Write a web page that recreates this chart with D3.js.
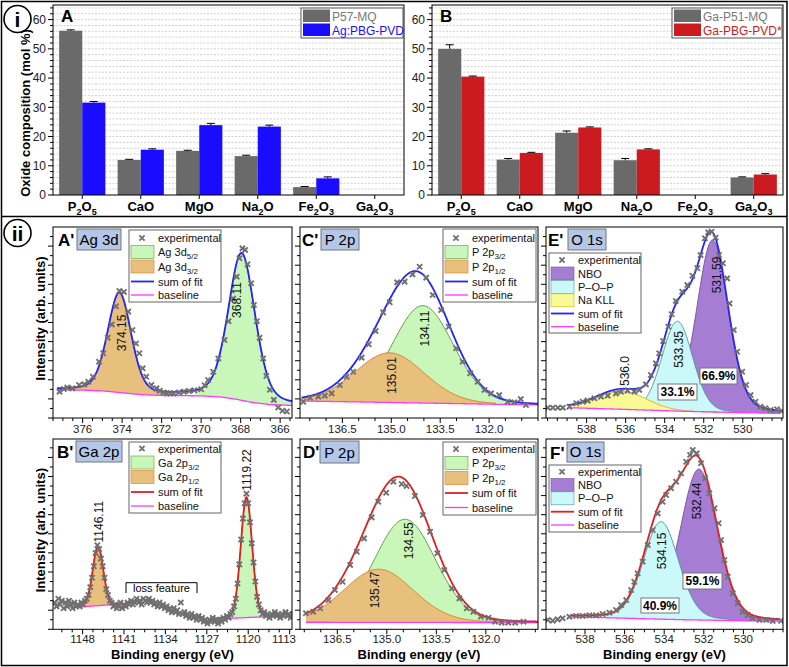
<!DOCTYPE html>
<html><head><meta charset="utf-8">
<script src="https://cdn.jsdelivr.net/npm/d3@7"></script>
<style>body{margin:0;background:#fff}svg{display:block;font-family:"Liberation Sans",Arial,sans-serif}</style>
</head><body><svg id="c" width="789" height="667"></svg>
<script>
// ================= DATA =================
const oxides = ["P2O5","CaO","MgO","Na2O","Fe2O3","Ga2O3"];
const barTicks = [0,10,20,30,40,50,60];
const p57mq    = [56.2, 12.0, 15.1, 13.3, 2.7, null];
const p57mqErr = [0.3, 0.2, 0.2, 0.3, 0.2, null];
const agPvd    = [31.6, 15.5, 23.9, 23.4, 5.7, null];
const agPvdErr = [0.4, 0.3, 0.6, 0.5, 0.5, null];
const gaP51    = [50.0, 12.1, 21.3, 11.9, null, 6.0];
const gaP51Err = [1.4, 0.4, 0.6, 0.6, null, 0.2];
const gaPvd    = [40.5, 14.4, 23.1, 15.6, null, 7.0];
const gaPvdErr = [0.2, 0.2, 0.2, 0.2, null, 0.3];

// XPS tick labels
const agTicks = [376,374,372,370,368,366];
const gaTicks = [1148,1141,1134,1127,1120,1113];
const pTicks  = [136.5,135.0,133.5,132.0];
const oTicks  = [538,536,534,532,530];

// A' Ag 3d
const agExp = [[377.17,13.8],[376.95,15.2],[376.78,15.9],[376.52,15.5],[376.18,17.3],[375.92,17.6],[375.71,19.0],[375.48,21.6],[375.17,29.5],[374.96,33.9],[374.73,42.0],[374.52,49.0],[374.31,58.5],[374.14,66.5],[373.91,66.0],[373.69,55.7],[373.48,46.1],[373.3,39.0],[373.13,33.9],[372.96,26.0],[372.78,21.6],[372.52,17.3],[372.26,15.5],[372.09,14.3],[371.9,13.4],[371.74,12.9],[371.56,13.0],[371.39,12.9],[371.13,13.3],[370.87,13.8],[370.61,14.1],[370.35,14.5],[370.0,15.0],[369.82,17.2],[369.65,19.9],[369.39,24.2],[369.13,31.2],[368.82,40.8],[368.61,50.7],[368.38,62.5],[368.2,74.0],[368.06,83.6],[367.91,88.8],[367.77,88.0],[367.65,80.5],[367.47,70.5],[367.33,59.2],[367.18,50.7],[367.04,42.0],[366.86,31.2],[366.7,22.0],[366.52,14.8],[366.32,9.5],[366.1,5.5],[365.88,3.8],[365.66,3.4]];
const agBaseline = [[377.3,14.8],[376,14.6],[375,14.2],[374,13.2],[373,12.2],[372,11.8],[370,11.6],[369,11.0],[368.2,9.8],[367.5,8.3],[366.5,7.0],[365.4,6.6]];
const agPeaks = [
  {name:"Ag 3d5/2", center:367.95, height:77, fwhm:1.6, eta:0.3, from:370.3, to:365.4},
  {name:"Ag 3d3/2", center:374.14, height:52, fwhm:1.4, eta:0.25, from:377.3, to:371.9}];
const agPeakLabels = ["368.11","374.15"];

// B' Ga 2p
const gaStart = 1152.7, gaStep = 0.3;
const gaExpI = [14,12,16,13,15,11,14,12,15,13, 11,14,12,13,12,14,13,15,16,18, 22,27,33,40,44,42,37,33,27,21,
  18,15,14,12,13,11,12,14,11,13, 12,14,13,15,13,14,16,14,15,13, 16,15,14,16,14,15,13,14,12,14,
  12,13,11,12,10,11,9,11,9,10, 8,14,8,9,7,8,6,8,6,7, 5,7,5,6,4,5,3,5,4,6, 4,5,3,5,4,6,5,7,6,8,
  9,12,16,24,34,47,58,66,71,66, 56,45,35,25,17,13,10,8,9,7, 8,6,8,7,9,7,8,6,8,7, 9,7,8,6,8,7,9,7,8];
const gaBaseline1 = [[1149.3,11.5],[1141.6,13.2]];
const gaBaseline2 = [[1125.6,5.4],[1114.0,7.0]];
const gaPeaks = [
  {name:"Ga 2p3/2", center:1120.3, height:63, fwhm:2.25, eta:0.1, from:1125.6, to:1114.0},
  {name:"Ga 2p1/2", center:1145.4, height:31, fwhm:2.1, eta:0.1, from:1149.3, to:1141.6}];
const gaPeakLabels = ["1119.22","1146.11"];

// C' P 2p (Ag glass)
const pAgExp = [[137.70,8.5],[137.49,10.6],[137.24,11.2],[137.04,11.7],[136.83,12.9],[136.58,17.3],[136.37,21.6],[136.17,24.2],[135.91,31.6],[135.69,38.6],[135.48,45.5],[135.25,55.3],[135.05,60.6],[134.82,71.0],[134.59,71.4],[134.35,75.2],[134.13,79.2],[133.93,73.5],[133.73,64.4],[133.47,56.5],[133.24,47.8],[133.01,36.5],[132.81,29.5],[132.58,23.4],[132.35,19.0],[132.14,14.7],[131.94,12.9],[131.69,12.0],[131.43,8.5],[131.23,8.2],[131.03,9.9],[130.87,6.8]];
const pAgBaseline = [[137.75,8.9],[130.45,6.8]];
const pAgPeaks = [
  {name:"P 2p3/2", center:134.03, height:51, fwhm:2.2, eta:0.1, from:137.75, to:130.45},
  {name:"P 2p1/2", center:135.05, height:26, fwhm:2.5, eta:0.1, from:137.75, to:131.8}];
const pAgPeakLabels = ["134.11","135.01"];

// D' P 2p (Ga glass)
const pGaExp = [[137.45,8.4],[137.23,9.2],[137.02,11.0],[136.77,15.3],[136.57,20.6],[136.34,24.9],[136.11,33.7],[135.91,40.6],[135.69,47.6],[135.46,58.6],[135.26,66.8],[135.02,71.5],[134.8,77.3],[134.55,76.1],[134.4,75.0],[134.15,69.8],[133.91,59.8],[133.69,51.1],[133.47,39.8],[133.26,31.0],[133.03,21.5],[132.8,16.2],[132.58,11.0],[132.38,9.2],[132.15,6.6],[131.92,6.1],[131.72,4.0],[131.52,3.5],[131.32,3.5],[131.11,3.5],[130.86,4.0]];
const pGaBaseline = [[137.45,3.7],[130.42,3.5]];
const pGaPeaks = [
  {name:"P 2p3/2", center:134.45, height:54, fwhm:2.2, eta:0.1, from:137.45, to:130.42},
  {name:"P 2p1/2", center:135.25, height:27.8, fwhm:2.5, eta:0.1, from:137.45, to:131.5}];
const pGaPeakLabels = ["134.55","135.47"];

// E' O 1s (Ag glass)
const oAgExp = [[539.98,5.4],[539.73,5.4],[539.47,5.4],[539.22,5.4],[538.88,5.9],[538.53,7.7],[538.2,8.5],[537.94,9.1],[537.6,10.3],[537.26,11.2],[536.92,11.7],[536.5,12.9],[536.24,13.8],[535.9,14.3],[535.56,13.8],[535.3,14.7],[534.96,17.6],[534.71,22.5],[534.45,28.6],[534.28,33.9],[534.08,40.3],[533.81,47.8],[533.64,54.3],[533.43,61.3],[533.1,66.1],[532.84,69.6],[532.58,74.5],[532.33,78.4],[532.16,85.3],[531.94,94.1],[531.77,97.2],[531.6,97.5],[531.39,94.4],[531.22,85.3],[531.02,81.0],[530.8,73.1],[530.68,60.0],[530.46,46.1],[530.29,34.7],[530.03,24.2],[529.83,17.3],[529.6,12.0],[529.35,8.5],[529.1,5.9],[528.84,5.1],[528.58,4.2],[528.25,4.6],[528.0,3.7]];
const oAgBaseline = [[538.95,5.4],[536,4.5],[533,3.5],[530,2.8],[528.1,2.4]];
const oAgPeaks = [
  {name:"NBO", center:531.55, height:90, fwhm:1.9, eta:0.2, from:533.2, to:528.1},
  {name:"P–O–P", center:533.35, height:47, fwhm:1.85, eta:0.1, from:535.3, to:530.5},
  {name:"Na KLL", center:536.2, height:9.5, fwhm:3.0, eta:0.0, from:538.95, to:531.2}];
const oAgPeakLabels = ["531.59","533.35","536.0"];
const oAgPercent = ["66.9%","33.1%"];

// F' O 1s (Ga glass)
const oGaExp = [[539.88,4.9],[539.63,4.5],[539.38,5.2],[539.13,5.8],[538.79,6.6],[538.45,7.0],[538.12,7.0],[537.78,7.3],[537.44,7.3],[537.11,8.0],[536.77,8.7],[536.43,10.1],[536.18,12.7],[535.92,15.3],[535.67,20.6],[535.51,24.9],[535.34,29.3],[535.09,35.4],[534.83,44.1],[534.58,52.0],[534.33,60.7],[534.08,66.8],[533.9,70.3],[533.65,73.8],[533.4,77.3],[533.15,81.7],[532.89,87.7],[532.69,91.3],[532.56,93.9],[532.36,92.1],[532.14,86.9],[531.93,79.1],[531.72,71.2],[531.46,63.4],[531.25,55.5],[531.13,46.8],[530.96,36.3],[530.79,27.5],[530.54,18.8],[530.29,13.6],[530.04,9.2],[529.78,7.5],[529.53,5.8],[529.19,4.9],[528.85,4.9],[528.52,4.3],[528.1,4.5]];
const oGaBaseline = [[538.7,6.6],[536,5.8],[533,5.0],[530,4.5],[528.2,4.3]];
const oGaPeaks = [
  {name:"NBO", center:532.25, height:79, fwhm:2.2, eta:0.15, from:534.2, to:528.2},
  {name:"P–O–P", center:534.16, height:51, fwhm:2.1, eta:0.15, from:538.7, to:530.8}];
const oGaPeakLabels = ["532.44","534.15"];
const oGaPercent = ["59.1%","40.9%"];

// ================= STYLE =================
const C = {gray:"#6a6a6a", blueBar:"#1a0dff", redBar:"#cc1b20",
  green:"#c9f7ba", greenLine:"#5e9a46", orange:"#e8c07e", orangeLine:"#e07a22",
  purple:"#a57ed3", purpleLine:"#7a52a5", cyan:"#cbf9f9", cyanLine:"#4d9696",
  yellow:"#f9f995", yellowLine:"#d2b400", blue:"#2323ff", red:"#e01f1f", base:"#ff38ff", exp:"#707070",
  titleBg:"#b4c7e8"};
const svg = d3.select("#c");

// ================= HELPERS =================
function chemText(sel, str){
  const parts = str.match(/[A-Za-z]+|\d+/g);
  let sub=false;
  parts.forEach(p=>{
    const isNum=/^\d+$/.test(p);
    const t=sel.append("tspan").text(p);
    if(isNum){t.attr("font-size","9px").attr("dy",sub?0:4);sub=true;}
    else{ if(sub){t.attr("dy",-4);} sub=false;}
  });
}
function xMark(g,x,y,r,col,w){
  g.append("path").attr("d",`M${x-r},${y-r}L${x+r},${y+r}M${x-r},${y+r}L${x+r},${y-r}`)
   .attr("stroke",col).attr("stroke-width",w).attr("fill","none");
}

// ================= FRAME =================
svg.append("rect").attr("x",1.5).attr("y",1.5).attr("width",785.5).attr("height",664).attr("fill","none").attr("stroke","#000").attr("stroke-width",1.5);
svg.append("line").attr("x1",1.5).attr("x2",787).attr("y1",216.5).attr("y2",216.5).attr("stroke","#000").attr("stroke-width",1.5);
[[17.5,19,"i"],[17.5,233,"ii"]].forEach(([cx,cy,t])=>{
  svg.append("circle").attr("cx",cx).attr("cy",cy).attr("r",13.5).attr("fill","#fff").attr("stroke","#000").attr("stroke-width",1.6);
  svg.append("text").attr("x",cx).attr("y",cy+7.5).attr("text-anchor","middle").attr("font-size","21px").attr("font-weight","bold").text(t);
});

// ================= BAR PANELS =================
function barPanel(x0,x1,s1,e1,s2,e2,col2,names,legBox,letter){
  const g=svg.append("g");
  const y0=195,y1=5;
  const x=d3.scaleBand().domain(oxides).range([x0,x1]);
  const y=d3.scaleLinear().domain([0,65]).range([y0,y1]);
  d3.range(2,65,2).forEach(v=>{
    g.append("line").attr("x1",x0).attr("x2",x1).attr("y1",y(v)).attr("y2",y(v))
     .attr("stroke","#c4c4c4").attr("stroke-width",0.8).attr("stroke-dasharray","2,1.5");
  });
  const bw=x.bandwidth()*0.395;
  oxides.forEach((o,i)=>{
    const cx=x(o)+x.bandwidth()/2;
    [[s1,e1,C.gray,cx-bw],[s2,e2,col2,cx]].forEach(([s,e,c,bx])=>{
      if(s[i]==null) return;
      g.append("rect").attr("x",bx).attr("y",y(s[i])).attr("width",bw).attr("height",y(0)-y(s[i])).attr("fill",c);
      const ex=bx+bw/2;
      g.append("line").attr("x1",ex).attr("x2",ex).attr("y1",y(s[i])).attr("y2",y(s[i]+e[i])).attr("stroke","#000").attr("stroke-width",1);
      g.append("line").attr("x1",ex-4).attr("x2",ex+4).attr("y1",y(s[i]+e[i])).attr("y2",y(s[i]+e[i])).attr("stroke","#000").attr("stroke-width",1);
    });
    g.append("line").attr("x1",cx).attr("x2",cx).attr("y1",y0).attr("y2",y0+4).attr("stroke","#000");
    const t=g.append("text").attr("x",cx).attr("y",211).attr("text-anchor","middle").attr("font-size","13px").attr("font-weight","bold");
    chemText(t,o);
  });
  g.append("rect").attr("x",x0).attr("y",y1).attr("width",x1-x0).attr("height",y0-y1).attr("fill","none").attr("stroke","#000").attr("stroke-width",1);
  d3.range(0,65,2).forEach(v=>{
    const major=barTicks.includes(v);
    g.append("line").attr("x1",x0).attr("x2",x0-(major?5:3)).attr("y1",y(v)).attr("y2",y(v)).attr("stroke","#000");
  });
  barTicks.forEach(v=>g.append("text").attr("x",x0-7).attr("y",y(v)).attr("dy","0.36em").attr("text-anchor","end").attr("font-size","12px").attr("fill","#222").text(v));
  g.append("text").attr("x",x0+8).attr("y",22).attr("font-size","17px").attr("font-weight","bold").text(letter);
  const [lx0,ly0,lx1,ly1]=legBox;
  g.append("rect").attr("x",lx0).attr("y",ly0).attr("width",lx1-lx0).attr("height",ly1-ly0).attr("fill","#fff").attr("stroke","#555").attr("stroke-width",1);
  [[C.gray,"#777",names[0],ly0+1.5],[col2,col2,names[1],ly0+15.5]].forEach(([c,tc,n,ry])=>{
    g.append("rect").attr("x",lx0+2).attr("y",ry).attr("width",27).attr("height",12.5).attr("fill",c);
    g.append("text").attr("x",lx0+31).attr("y",ry+11).attr("font-size","12px").attr("fill",tc).text(n);
  });
}
barPanel(53,404,p57mq,p57mqErr,agPvd,agPvdErr,C.blueBar,["P57-MQ","Ag:PBG-PVD"],[301,8,403,38],"A");
barPanel(432,783,gaP51,gaP51Err,gaPvd,gaPvdErr,C.redBar,["Ga-P51-MQ","Ga-PBG-PVD*"],[672,8,782,38],"B");
svg.append("text").attr("transform","translate(30,113) rotate(-90)").attr("text-anchor","middle").attr("font-size","13px").attr("font-weight","bold").text("Oxide composition (mol %)");

// ================= XPS PANELS =================
const pv=(E,p)=>{const t=(E-p.center)/p.fwhm;const t2=4*t*t;return p.height*((1-p.eta)*Math.exp(-Math.LN2*t2)+p.eta/(1+t2));};
let clipId=0;
function xps(P){
  const [fx0,fy0,fx1,fy1]=P.frame;
  const g=svg.append("g");
  const x=d3.scaleLinear().domain(P.xd).range([fx0,fx1]);
  const y=d3.scaleLinear().domain([0,100]).range([fy1,fy1-191]);
  const id="clip"+(clipId++);
  g.append("clipPath").attr("id",id).append("rect").attr("x",fx0).attr("y",fy0).attr("width",fx1-fx0).attr("height",fy1-fy0);
  const pg=g.append("g").attr("clip-path",`url(#${id})`);
  const regions=P.regions.map(r=>{
    const bl=d3.scaleLinear().domain(r.baseline.map(d=>d[0])).range(r.baseline.map(d=>d[1])).clamp(true);
    return {bl,e0:r.baseline[0][0],e1:r.baseline[r.baseline.length-1][0],peaks:r.peaks};
  });
  P.order.forEach(pi=>{
    const pk=P.peaks[pi];
    const reg=regions.find(r=>r.peaks.includes(pi));
    const es=d3.range(0,301).map(k=>pk.from+(pk.to-pk.from)*k/300);
    const area=d3.area().x(e=>x(e)).y0(e=>y(reg.bl(e))).y1(e=>y(reg.bl(e)+pv(e,pk)));
    pg.append("path").attr("d",area(es)).attr("fill",C[P.fills[pi]]);
    const line=d3.line().x(e=>x(e)).y(e=>y(reg.bl(e)+pv(e,pk)));
    pg.append("path").attr("d",line(es)).attr("fill","none").attr("stroke",C[P.fills[pi]+"Line"]).attr("stroke-width",1);
  });
  regions.forEach(reg=>{
    const es=d3.range(0,401).map(k=>reg.e0+(reg.e1-reg.e0)*k/400);
    pg.append("path").attr("d",d3.line().x(e=>x(e)).y(e=>y(reg.bl(e)))(es)).attr("fill","none").attr("stroke",C.base).attr("stroke-width",1.3);
  });
  regions.forEach(reg=>{
    const es=d3.range(0,401).map(k=>reg.e0+(reg.e1-reg.e0)*k/400);
    const sum=e=>reg.bl(e)+d3.sum(reg.peaks,pi=>pv(e,P.peaks[pi]));
    pg.append("path").attr("d",d3.line().x(e=>x(e)).y(e=>y(sum(e)))(es)).attr("fill","none").attr("stroke",C[P.sum]).attr("stroke-width",1.8);
  });
  P.exp.forEach(d=>xMark(pg,x(d[0]),y(d[1]),2.6,C.exp,1.9));
  g.append("rect").attr("x",fx0).attr("y",fy0).attr("width",fx1-fx0).attr("height",fy1-fy0).attr("fill","none").attr("stroke","#000").attr("stroke-width",1);
  const [dmax,dmin]=P.xd;
  for(let k=-40;k<200;k++){
    const v=P.ticks[0]-k*P.minor;
    if(v>dmax||v<dmin) continue;
    const major=P.ticks.some(t=>Math.abs(t-v)<1e-6);
    g.append("line").attr("x1",x(v)).attr("x2",x(v)).attr("y1",fy1).attr("y2",fy1+(major?5:3)).attr("stroke","#000");
  }
  P.ticks.forEach(v=>g.append("text").attr("x",Math.min(x(v),fx1-8)).attr("y",fy1+P.tickDy).attr("text-anchor","middle").attr("font-size","11.5px").attr("fill","#222").text(P.fmt(v)));
  for(let v=0;v<100;v+=5){
    g.append("line").attr("x1",fx0).attr("x2",fx0-(v%10===0?5:3)).attr("y1",y(v)).attr("y2",y(v)).attr("stroke","#000");
  }
  if(P.ylabel) g.append("text").attr("transform",`translate(44.5,${(fy0+fy1)/2-4}) rotate(-90)`).attr("text-anchor","middle").attr("font-size","13px").attr("font-weight","bold").text("Intensity (arb. units)");
  if(P.xlabel) g.append("text").attr("x",(fx0+fx1)/2).attr("y",fy1+30).attr("text-anchor","middle").attr("font-size","13px").attr("font-weight","bold").text("Binding energy (eV)");
  P.labels.forEach((t,i)=>{
    const [lx,ly]=P.labelPos[i];
    g.append("text").attr("transform",`translate(${lx},${ly}) rotate(-90)`).attr("text-anchor","middle").attr("dy","0.35em").attr("font-size","12px").attr("fill","#111").text(t);
  });
  (P.percent||[]).forEach((t,i)=>{
    const [bx0,by0,bx1,by1]=P.percentBox[i];
    g.append("rect").attr("x",bx0).attr("y",by0).attr("width",bx1-bx0).attr("height",by1-by0).attr("fill","#fff").attr("stroke","#777");
    g.append("text").attr("x",(bx0+bx1)/2).attr("y",(by0+by1)/2).attr("dy","0.36em").attr("text-anchor","middle").attr("font-size","12px").attr("font-weight","bold").text(t);
  });
  const [tx0,ty0,tx1,ty1]=P.titleBox;
  g.append("text").attr("x",P.letterX).attr("y",ty0+17).attr("font-size","17px").attr("font-weight","bold").text(P.letter);
  g.append("rect").attr("x",tx0).attr("y",ty0).attr("width",tx1-tx0).attr("height",ty1-ty0).attr("fill",C.titleBg).attr("stroke","#777");
  g.append("text").attr("x",(tx0+tx1)/2).attr("y",ty1-5).attr("text-anchor","middle").attr("font-size","15px").text(P.title);
  const L=P.legend;
  g.append("rect").attr("x",L.box[0]).attr("y",L.box[1]).attr("width",L.box[2]-L.box[0]).attr("height",L.box[3]-L.box[1]).attr("fill","#fff").attr("stroke","#666");
  L.items.forEach((it,i)=>{
    const ry=L.rows[i];
    if(it.k==="exp") xMark(g,L.sx+11,ry,2.6,C.exp,1.8);
    else if(it.k==="rect") g.append("rect").attr("x",L.sx).attr("y",ry-6.5).attr("width",23).attr("height",13).attr("fill",C[it.c]).attr("stroke",C[it.c+"Line"]).attr("stroke-width",0.6);
    else g.append("line").attr("x1",L.sx).attr("x2",L.sx+23).attr("y1",ry).attr("y2",ry).attr("stroke",C[it.c]).attr("stroke-width",it.c==="base"?1.3:1.8);
    const t=g.append("text").attr("x",L.tx).attr("y",ry+4).attr("font-size","11px").attr("fill","#111").text(it.t);
    if(it.s){ t.append("tspan").attr("font-size","8px").attr("dy",3).text(it.s); }
  });
}
const fInt=d3.format("d"), f1=d3.format(".1f");
const legRowsTop=[238,252,266.5,281.5,295];
xps({letter:"A'",title:"Ag 3d",frame:[53,227,292,418],tickDy:15,xd:[377.5,365.4],ticks:agTicks,minor:0.5,fmt:fInt,
  exp:agExp,regions:[{baseline:agBaseline,peaks:[0,1]}],peaks:agPeaks,fills:["green","orange"],order:[0,1],sum:"blue",
  labels:agPeakLabels,labelPos:[[237,300],[121.5,333]],ylabel:true,xlabel:false,titleBox:[77,229,121,250],letterX:58,
  legend:{box:[129,230,221,302],rows:legRowsTop,sx:131,tx:158,items:[{k:"exp",t:"experimental"},{k:"rect",c:"green",t:"Ag 3d",s:"5/2"},{k:"rect",c:"orange",t:"Ag 3d",s:"3/2"},{k:"line",c:"blue",t:"sum of fit"},{k:"line",c:"base",t:"baseline"}]}});
xps({letter:"C'",title:"P 2p",frame:[300,227,538,418],tickDy:15,xd:[137.8,130.5],ticks:pTicks,minor:0.5,fmt:f1,
  exp:pAgExp,regions:[{baseline:pAgBaseline,peaks:[0,1]}],peaks:pAgPeaks,fills:["green","orange"],order:[0,1],sum:"blue",
  labels:pAgPeakLabels,labelPos:[[425,328.5],[391.5,375.5]],ylabel:false,xlabel:false,titleBox:[321,229,359,250],letterX:302,
  legend:{box:[443,229,536,302],rows:legRowsTop,sx:445,tx:472,items:[{k:"exp",t:"experimental"},{k:"rect",c:"green",t:"P 2p",s:"3/2"},{k:"rect",c:"orange",t:"P 2p",s:"1/2"},{k:"line",c:"blue",t:"sum of fit"},{k:"line",c:"base",t:"baseline"}]}});
xps({letter:"E'",title:"O 1s",frame:[546,227,783,418],tickDy:15,xd:[540.08,527.94],ticks:oTicks,minor:0.5,fmt:fInt,
  exp:oAgExp,regions:[{baseline:oAgBaseline,peaks:[0,1,2]}],peaks:oAgPeaks,fills:["purple","cyan","yellow"],order:[0,1,2],sum:"blue",
  labels:oAgPeakLabels,labelPos:[[717,275],[679,349.5],[625,371]],percent:oAgPercent,percentBox:[[700,368,737,384],[658,384,697,400]],
  ylabel:false,xlabel:false,titleBox:[568,229,606,250],letterX:548,
  legend:{box:[549,253,641,333],rows:[260,273.5,287,300.3,313.5,326.7],sx:551,tx:578,items:[{k:"exp",t:"experimental"},{k:"rect",c:"purple",t:"NBO"},{k:"rect",c:"cyan",t:"P–O–P"},{k:"rect",c:"yellow",t:"Na KLL"},{k:"line",c:"blue",t:"sum of fit"},{k:"line",c:"base",t:"baseline"}]}});
xps({letter:"B'",title:"Ga 2p",frame:[53,439,292,629.3],tickDy:13.5,xd:[1153,1112.6],ticks:gaTicks,minor:1.75,fmt:fInt,
  exp:gaExpI.map((v,k)=>[gaStart-k*gaStep,v]),regions:[{baseline:gaBaseline2,peaks:[0]},{baseline:gaBaseline1,peaks:[1]}],peaks:gaPeaks,fills:["green","orange"],order:[0,1],sum:"red",
  labels:gaPeakLabels,labelPos:[[247,470],[99,521.7]],ylabel:true,xlabel:true,titleBox:[76,441,122,462],letterX:57,
  legend:{box:[129,442,221,513],rows:[448.5,462.5,477,492,506],sx:131,tx:158,items:[{k:"exp",t:"experimental"},{k:"rect",c:"green",t:"Ga 2p",s:"3/2"},{k:"rect",c:"orange",t:"Ga 2p",s:"1/2"},{k:"line",c:"red",t:"sum of fit"},{k:"line",c:"base",t:"baseline"}]}});
xps({letter:"D'",title:"P 2p",frame:[300,439,538,629.3],tickDy:13.5,xd:[137.63,130.42],ticks:pTicks,minor:0.5,fmt:f1,
  exp:pGaExp,regions:[{baseline:pGaBaseline,peaks:[0,1]}],peaks:pGaPeaks,fills:["green","orange"],order:[0,1],sum:"red",
  labels:pGaPeakLabels,labelPos:[[408.3,540.8],[375,590]],ylabel:false,xlabel:true,titleBox:[320,441,359,463],letterX:303,
  legend:{box:[443,442,536,515],rows:[449,463,478,493,507.5],sx:445,tx:472,items:[{k:"exp",t:"experimental"},{k:"rect",c:"green",t:"P 2p",s:"3/2"},{k:"rect",c:"orange",t:"P 2p",s:"1/2"},{k:"line",c:"red",t:"sum of fit"},{k:"line",c:"base",t:"baseline"}]}});
xps({letter:"F'",title:"O 1s",frame:[546,439,783,629.3],tickDy:13.5,xd:[539.97,528.0],ticks:oTicks,minor:0.5,fmt:fInt,
  exp:oGaExp,regions:[{baseline:oGaBaseline,peaks:[0,1]}],peaks:oGaPeaks,fills:["purple","cyan"],order:[0,1],sum:"red",
  labels:oGaPeakLabels,labelPos:[[696.7,501],[661.7,551]],percent:oGaPercent,percentBox:[[683,573,722,589],[641,598,679,613]],
  ylabel:false,xlabel:true,titleBox:[567,442,604,462],letterX:550,
  legend:{box:[549,465,641,532],rows:[471.7,485,498.3,511.7,525],sx:551,tx:578,items:[{k:"exp",t:"experimental"},{k:"rect",c:"purple",t:"NBO"},{k:"rect",c:"cyan",t:"P–O–P"},{k:"line",c:"red",t:"sum of fit"},{k:"line",c:"base",t:"baseline"}]}});
const lb=svg.append("g");
lb.append("path").attr("d","M126,593V582.7H197V593").attr("fill","none").attr("stroke","#000").attr("stroke-width",1);
lb.append("text").attr("x",161.5).attr("y",592).attr("text-anchor","middle").attr("font-size","11px").text("loss feature");
</script></body></html>
